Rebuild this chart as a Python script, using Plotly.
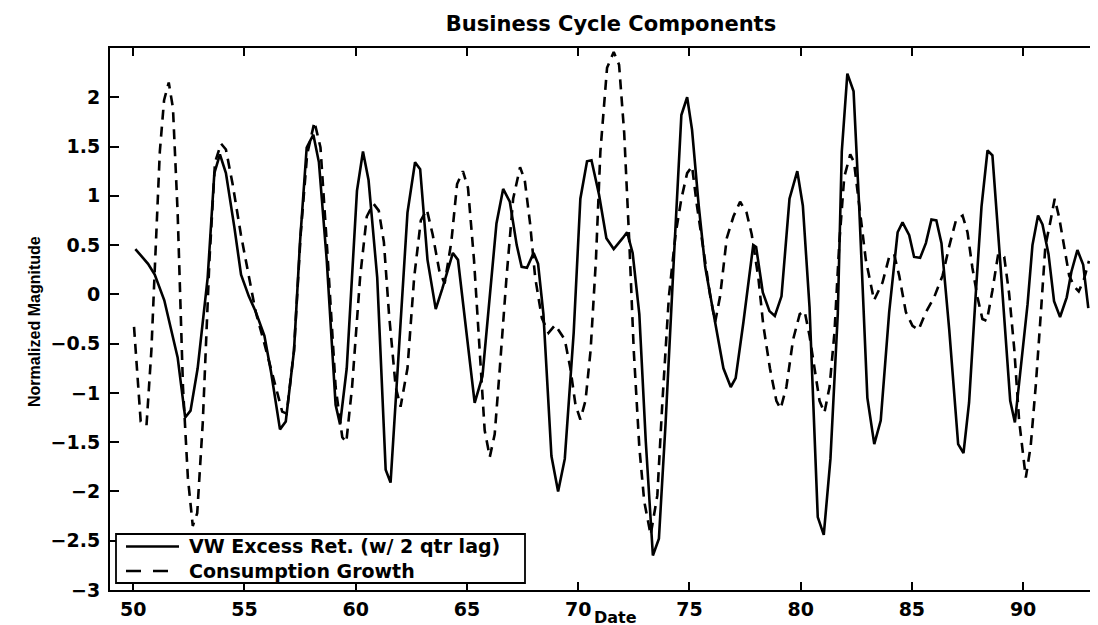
import plotly.graph_objects as go

# ---- data ----
vw_date = [50.1, 50.67, 50.97, 51.4, 52.0, 52.34, 52.58, 52.9, 53.35, 53.65,
           53.9, 54.17, 54.55, 54.85, 55.2, 55.5, 55.9, 56.2, 56.6, 56.86,
           57.23, 57.5, 57.8, 58.1, 58.35, 58.7, 59.1, 59.3, 59.6, 60.06,
           60.33, 60.58, 60.97, 61.35, 61.57, 61.95, 62.33, 62.67, 62.9, 63.23,
           63.6, 63.9, 64.37, 64.6, 64.97, 65.35, 65.7, 66.33, 66.63, 66.93,
           67.24, 67.46, 67.7, 68.0, 68.2, 68.44, 68.8, 69.1, 69.4, 69.8,
           70.1, 70.4, 70.6, 70.94, 71.27, 71.6, 72.0, 72.2, 72.45, 72.75,
           73.04, 73.36, 73.63, 73.93, 74.3, 74.64, 74.9, 75.12, 75.42, 75.71,
           76.09, 76.53, 76.86, 77.08, 77.43, 77.87, 78.0, 78.3, 78.6, 78.84,
           79.14, 79.5, 79.85, 80.1, 80.4, 80.77, 81.04, 81.34, 81.67, 81.85,
           82.1, 82.38, 82.63, 83.0, 83.31, 83.6, 83.98, 84.36, 84.58, 84.88,
           85.1, 85.37, 85.63, 85.88, 86.1, 86.33, 86.68, 87.08, 87.32, 87.57,
           87.87, 88.13, 88.4, 88.62, 88.92, 89.22, 89.42, 89.63, 89.9, 90.2,
           90.42, 90.67, 90.87, 91.14, 91.39, 91.66, 91.96, 92.17, 92.44, 92.7,
           92.93]
vw_value = [0.46, 0.31, 0.2, -0.06, -0.64, -1.25, -1.18, -0.75, 0.17, 1.23,
            1.42, 1.23, 0.68, 0.2, -0.02, -0.17, -0.42, -0.79, -1.37, -1.29,
            -0.57, 0.53, 1.49, 1.62, 1.34, 0.35, -1.12, -1.32, -0.75, 1.05,
            1.45, 1.16, 0.17, -1.78, -1.91, -0.57, 0.83, 1.34, 1.27, 0.35,
            -0.15, 0.06, 0.42, 0.35, -0.39, -1.1, -0.83, 0.72, 1.07, 0.94,
            0.5, 0.28, 0.27, 0.42, 0.31, -0.2, -1.64, -2.0, -1.67, -0.39,
            0.97, 1.35, 1.36, 1.01, 0.57, 0.46, 0.57, 0.63, 0.42, -0.2,
            -1.49, -2.65, -2.48, -1.31, 0.35, 1.82, 2.0, 1.67, 0.9, 0.28,
            -0.2, -0.75, -0.94, -0.85, -0.28, 0.5, 0.48, 0.02, -0.17, -0.22,
            -0.02, 0.97, 1.25, 0.9, -0.13, -2.26, -2.44, -1.67, -0.2, 1.45,
            2.24, 2.06, 0.9, -1.05, -1.52, -1.28, -0.18, 0.63, 0.73, 0.6,
            0.38, 0.37, 0.52, 0.76, 0.75, 0.52, -0.36, -1.52, -1.61, -1.1,
            0.0, 0.89, 1.46, 1.41, 0.49, -0.44, -1.08, -1.3, -0.73, -0.1,
            0.5, 0.8, 0.71, 0.41, -0.07, -0.23, -0.03, 0.23, 0.45, 0.3,
            -0.14]

cons_date = [50.04, 50.22, 50.34, 50.6, 50.82, 50.97, 51.2, 51.39, 51.6, 51.79,
             52.0, 52.24, 52.46, 52.68, 52.88, 53.13, 53.43, 53.68, 53.95, 54.17,
             54.47, 54.84, 55.2, 55.5, 55.9, 56.2, 56.7, 56.9, 57.23, 57.53,
             57.82, 58.15, 58.42, 58.72, 59.1, 59.4, 59.58, 59.84, 60.2, 60.5,
             60.8, 61.04, 61.27, 61.5, 61.8, 62.02, 62.33, 62.63, 62.93, 63.2,
             63.46, 63.76, 64.0, 64.3, 64.56, 64.82, 65.05, 65.32, 65.57, 65.8,
             66.03, 66.25, 66.48, 66.78, 67.08, 67.39, 67.6, 67.84, 68.07, 68.37,
             68.67, 68.97, 69.4, 69.65, 69.88, 70.1, 70.33, 70.56, 70.8, 71.0,
             71.3, 71.6, 71.84, 72.07, 72.3, 72.5, 72.75, 72.97, 73.26, 73.56,
             73.78, 74.08, 74.38, 74.64, 74.9, 75.12, 75.34, 75.64, 75.94, 76.16,
             76.38, 76.68, 76.98, 77.28, 77.57, 77.8, 78.1, 78.32, 78.62, 78.91,
             79.1, 79.36, 79.66, 79.96, 80.18, 80.4, 80.63, 80.85, 81.07, 81.3,
             81.52, 81.74, 81.96, 82.23, 82.4, 82.63, 82.93, 83.3, 83.68, 83.98,
             84.2, 84.43, 84.73, 85.03, 85.3, 85.63, 86.0, 86.38, 86.68, 86.98,
             87.28, 87.5, 87.72, 87.95, 88.17, 88.37, 88.62, 88.88, 89.15, 89.37,
             89.6, 89.82, 90.01, 90.12, 90.34, 90.57, 90.8, 91.0, 91.2, 91.42,
             91.62, 91.84, 92.07, 92.3, 92.5, 92.73, 92.96]
cons_value = [-0.33, -0.86, -1.29, -1.33, -0.57, 0.24, 1.45, 1.97, 2.15, 1.89,
              0.83, -0.94, -1.86, -2.35, -2.22, -1.3, 0.35, 1.34, 1.53, 1.47,
              1.12, 0.61, 0.2, -0.17, -0.5, -0.75, -1.19, -1.21, -0.57, 0.61,
              1.42, 1.75, 1.49, 0.46, -0.94, -1.45, -1.5, -0.94, 0.17, 0.79,
              0.92, 0.85, 0.53, -0.2, -0.94, -1.14, -0.75, 0.17, 0.75, 0.86,
              0.61, 0.24, 0.11, 0.53, 1.12, 1.25, 1.08, 0.35, -0.57, -1.38,
              -1.65, -1.42, -0.75, 0.17, 0.97, 1.29, 1.16, 0.72, 0.17, -0.24,
              -0.39, -0.31, -0.46, -0.75, -1.12, -1.27, -1.08, -0.57, 0.35, 1.45,
              2.3, 2.46, 2.33, 1.64, 0.53, -0.57, -1.55, -2.1, -2.44, -2.04,
              -1.12, -0.02, 0.61, 0.97, 1.23, 1.3, 0.9, 0.46, -0.02, -0.28,
              -0.02, 0.57, 0.79, 0.94, 0.83, 0.61, 0.17, -0.31, -0.75, -1.08,
              -1.16, -0.94, -0.46, -0.2, -0.17, -0.42, -0.75, -1.08, -1.2, -0.94,
              -0.39, 0.53, 1.19, 1.42, 1.34, 0.9, 0.35, -0.06, 0.12, 0.38,
              0.41, 0.19, -0.18, -0.32, -0.36, -0.18, -0.03, 0.19, 0.49, 0.75,
              0.8, 0.63, 0.27, -0.03, -0.25, -0.27, 0.04, 0.41, 0.38, 0.01,
              -0.55, -1.28, -1.65, -1.86, -1.54, -0.92, -0.18, 0.49, 0.71, 0.97,
              0.78, 0.49, 0.19, 0.08, 0.03, 0.15, 0.34]

x_ticks = [50, 55, 60, 65, 70, 75, 80, 85, 90]
y_ticks = [-3, -2.5, -2, -1.5, -1, -0.5, 0, 0.5, 1, 1.5, 2]

series_names = ["VW Excess Ret. (w/ 2 qtr lag)", "Consumption Growth"]
title_text = "Business Cycle Components"
x_title = "Date"
y_title = "Normalized Magnitude"

# ---- layout geometry (pixels) ----
W, H = 1098, 625
ML, MR, MT, MB = 102, 1, 40, 43
PW, PH = W - ML - MR, H - MT - MB


def px(x):  # pixel x -> paper x
    return (x - ML) / PW


def py(y):  # pixel y -> paper y
    return (H - MB - y) / PH


BOLD = "DejaVu Sans"
TICK_FONT = dict(family=BOLD, size=19, color="black", weight="bold")
LEG_FONT = dict(family=BOLD, size=19, color="black", weight="bold")

fig = go.Figure()
fig.add_trace(go.Scatter(x=vw_date, y=vw_value, mode="lines", name=series_names[0],
                         line=dict(color="black", width=2.6), showlegend=False))
fig.add_trace(go.Scatter(x=cons_date, y=cons_value, mode="lines", name=series_names[1],
                         line=dict(color="black", width=2.6, dash="10px,7px"),
                         showlegend=False))

# hand-drawn legend box (tight MATLAB style)
ROW1, ROW2 = 538.5, 563.0
shapes = [
    dict(type="rect", xref="paper", yref="paper", x0=px(108), x1=px(517), y0=py(575), y1=py(526),
         line=dict(color="black", width=1.8), fillcolor="white", layer="above"),
    dict(type="line", xref="paper", yref="paper", x0=px(118), x1=px(171), y0=py(ROW1), y1=py(ROW1),
         line=dict(color="black", width=2.6), layer="above"),
    dict(type="line", xref="paper", yref="paper", x0=px(118), x1=px(161), y0=py(ROW2), y1=py(ROW2),
         line=dict(color="black", width=2.6, dash="15px,12px"), layer="above"),
]

annotations = [
    dict(text="<br>".join(series_names), xref="paper", yref="paper", x=px(179),
         y=py((ROW1 + ROW2) / 2), xanchor="left", yanchor="middle", align="left",
         showarrow=False, font=LEG_FONT),
    dict(text=y_title, textangle=-90, xref="paper", yref="paper",
         x=px(26), y=py(314), xanchor="center", yanchor="middle", showarrow=False,
         font=dict(family="Liberation Sans, Arial", size=16, color="black", weight="bold")),
    dict(text=x_title, xref="paper", yref="paper", x=px(607), y=py(609),
         xanchor="center", yanchor="middle", showarrow=False, borderpad=0,
         font=dict(family=BOLD, size=16, color="black", weight="bold")),
]

fig.update_layout(
    width=W, height=H,
    margin=dict(l=ML, r=MR, t=MT, b=MB),
    paper_bgcolor="white", plot_bgcolor="white",
    title=dict(text=title_text, xref="paper", x=px(603), xanchor="center",
               y=1 - 16 / H, yanchor="middle",
               font=dict(family=BOLD, size=21, color="black", weight="bold")),
    showlegend=False,
    xaxis=dict(range=[48.96, 93.68], tickvals=x_ticks, ticktext=[str(v) for v in x_ticks],
               ticks="inside", ticklen=8, tickwidth=2, tickcolor="black",
               showline=True, linecolor="black", linewidth=2, mirror="ticks",
               showgrid=False, zeroline=False, tickfont=TICK_FONT,
               ticklabelstandoff=1),
    yaxis=dict(range=[-3, 2.5], tickvals=y_ticks,
               ticks="inside", ticklen=9, tickwidth=2, tickcolor="black",
               showline=True, linecolor="black", linewidth=2, mirror=False,
               showgrid=False, zeroline=False, tickfont=TICK_FONT,
               ticklabelstandoff=4),
    yaxis2=dict(range=[-3, 2.5], tickvals=y_ticks, overlaying="y", side="right", anchor="x",
                ticks="inside", ticklen=4, tickwidth=2, tickcolor="black",
                showticklabels=False, showline=False, showgrid=False, zeroline=False),
    shapes=shapes,
    annotations=annotations,
)

fig.write_html("out.html")
